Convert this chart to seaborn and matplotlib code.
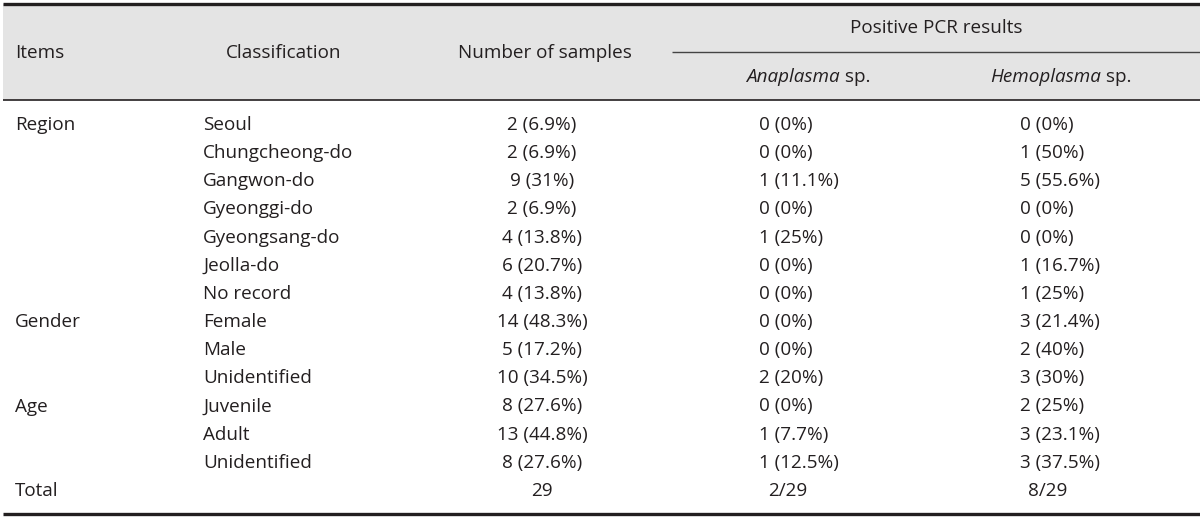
import matplotlib
matplotlib.use("Agg")
import matplotlib.pyplot as plt
import seaborn as sns

# table content
items = ["Region", "", "", "", "", "", "", "Gender", "", "", "Age", "", "", "Total"]
classification = ["Seoul", "Chungcheong-do", "Gangwon-do", "Gyeonggi-do", "Gyeongsang-do",
                  "Jeolla-do", "No record", "Female", "Male", "Unidentified",
                  "Juvenile", "Adult", "Unidentified", ""]
n_samples = ["2 (6.9%)", "2 (6.9%)", "9 (31%)", "2 (6.9%)", "4 (13.8%)", "6 (20.7%)",
             "4 (13.8%)", "14 (48.3%)", "5 (17.2%)", "10 (34.5%)", "8 (27.6%)",
             "13 (44.8%)", "8 (27.6%)", "29"]
anaplasma = ["0 (0%)", "0 (0%)", "1 (11.1%)", "0 (0%)", "1 (25%)", "0 (0%)", "0 (0%)",
             "0 (0%)", "0 (0%)", "2 (20%)", "0 (0%)", "1 (7.7%)", "1 (12.5%)", "2/29"]
hemoplasma = ["0 (0%)", "1 (50%)", "5 (55.6%)", "0 (0%)", "0 (0%)", "1 (16.7%)", "1 (25%)",
              "3 (21.4%)", "2 (40%)", "3 (30%)", "2 (25%)", "3 (23.1%)", "3 (37.5%)", "8/29"]

header_cols = ["Items", "Classification", "Number of samples"]
group_title = "Positive PCR results"
sub_headers = [("Anaplasma", " sp."), ("Hemoplasma", " sp.")]

sns.set_theme(style="white")
plt.rcParams["font.family"] = ["Open Sans", "DejaVu Sans"]

W, H = 1200, 517
fig = plt.figure(figsize=(W / 100, H / 100), dpi=100)
ax = fig.add_axes([0, 0, 1, 1])
ax.set_xlim(0, W)
ax.set_ylim(H, 0)
ax.axis("off")

ink = "#231f20"
fs = 13.6

# header band and rules
ax.axhspan(4, 100, xmin=3 / W, xmax=1, color="#e4e4e4", lw=0, zorder=0)
ax.plot([3, W], [4, 4], color=ink, lw=2.4, solid_capstyle="butt")
ax.plot([3, W], [100, 100], color=ink, lw=1.2, solid_capstyle="butt")
ax.plot([672, W], [52, 52], color="#444444", lw=1.0, solid_capstyle="butt")
ax.plot([3, W], [514, 514], color=ink, lw=2.4, solid_capstyle="butt")

# header text
ax.text(15, 53, header_cols[0], ha="left", va="center", fontsize=fs, color=ink)
ax.text(284, 53, header_cols[1], ha="center", va="center", fontsize=fs, color=ink)
ax.text(545, 53, header_cols[2], ha="center", va="center", fontsize=fs, color=ink)
ax.text(936, 28, group_title, ha="center", va="center", fontsize=fs, color=ink)

renderer = fig.canvas.get_renderer()
for (genus, rest), cx in zip(sub_headers, [808, 1061]):
    t1 = ax.text(0, 77, genus, ha="left", va="center", fontsize=fs, style="italic", color=ink)
    t2 = ax.text(0, 77, rest, ha="left", va="center", fontsize=fs, color=ink)
    w1 = t1.get_window_extent(renderer).width
    w2 = t2.get_window_extent(renderer).width
    x0 = cx - (w1 + w2) / 2
    t1.set_x(x0)
    t2.set_x(x0 + w1)

# body rows
y0, dy = 125, 28.15
for i in range(len(classification)):
    y = y0 + i * dy
    total = items[i] == "Total"
    ax.text(15, y, items[i], ha="left", va="center", fontsize=fs, color=ink)
    ax.text(203, y, classification[i], ha="left", va="center", fontsize=fs, color=ink)
    ax.text(542, y, n_samples[i], ha="center", va="center", fontsize=fs, color=ink)
    ax.text(768 if total else 759, y, anaplasma[i], ha="left", va="center", fontsize=fs, color=ink)
    ax.text(1028 if total else 1020, y, hemoplasma[i], ha="left", va="center", fontsize=fs, color=ink)

fig.savefig("out.png", dpi=100)
